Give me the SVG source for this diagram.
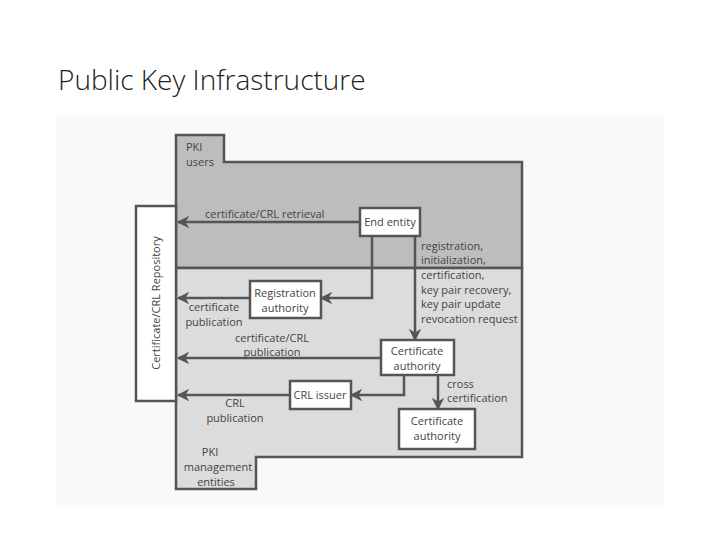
<svg xmlns="http://www.w3.org/2000/svg" width="720" height="540" viewBox="0 0 720 540">
<style>
text{font-family:"Open Sans","Liberation Sans",sans-serif;fill:#444;font-size:11px}
.box{fill:#fff;stroke:#555;stroke-width:2.5}
.reg{stroke:#555;stroke-width:2.5}
.c{fill:none;stroke:#555;stroke-width:2.5}
</style>
<defs><marker id="a" viewBox="0 0 10 10" refX="9" refY="5" markerWidth="5" markerHeight="5" orient="auto" markerUnits="strokeWidth"><path d="M0,0L10,5L0,10L3,5z" fill="#555"/></marker></defs>
<rect width="720" height="540" fill="#fff"/>
<text x="58" y="90" style="font-size:28px;fill:#222;font-family:'Open Sans','Liberation Sans',sans-serif;font-weight:300">Public Key Infrastructure</text>
<rect x="56" y="115" width="608" height="390" fill="#f9f9f9"/>
<g id="users"><path class="reg" fill="#bdbdbd" d="M176,135H224V162H522V268H176Z"/><text x="186" y="151">PKI</text><text x="186" y="166">users</text></g>
<g id="mgmt"><path class="reg" fill="#dcdcdc" d="M176,268H522V457H256V489H176Z"/><text x="210" y="456" text-anchor="middle">PKI</text><text x="218" y="471" text-anchor="middle">management</text><text x="216" y="486" text-anchor="middle">entities</text></g>
<g id="repo"><rect class="box" x="136" y="206" width="40" height="195"/><text transform="translate(160,303) rotate(-90)" text-anchor="middle">Certificate/CRL Repository</text></g>
<g id="ee"><rect class="box" x="360" y="208" width="60" height="28"/><text x="390" y="226" text-anchor="middle">End entity</text></g>
<g id="ra"><rect class="box" x="250" y="281" width="71" height="37"/><text x="285" y="297" text-anchor="middle">Registration</text><text x="285" y="312" text-anchor="middle">authority</text></g>
<g id="ca1"><rect class="box" x="381" y="340" width="73" height="35"/><text x="417" y="355" text-anchor="middle">Certificate</text><text x="417" y="370" text-anchor="middle">authority</text></g>
<g id="crl"><rect class="box" x="290" y="381" width="61" height="28"/><text x="320" y="399" text-anchor="middle">CRL issuer</text></g>
<g id="ca2"><rect class="box" x="399" y="409" width="76" height="40"/><text x="437" y="425" text-anchor="middle">Certificate</text><text x="437" y="440" text-anchor="middle">authority</text></g>
<g id="connectors">
<path class="c" d="M360,222H178" marker-end="url(#a)"/>
<path class="c" d="M372,236V298H321" marker-end="url(#a)"/>
<path class="c" d="M250,298H178" marker-end="url(#a)"/>
<path class="c" d="M415,236V340" marker-end="url(#a)"/>
<path class="c" d="M381,358H178" marker-end="url(#a)"/>
<path class="c" d="M404,375V395H351" marker-end="url(#a)"/>
<path class="c" d="M290,395H178" marker-end="url(#a)"/>
<path class="c" d="M438,375V409" marker-end="url(#a)"/>
<text x="205" y="218">certificate/CRL retrieval</text>
<text x="421" y="250">registration,</text><text x="421" y="264">initialization,</text><text x="421" y="279">certification,</text><text x="421" y="294">key pair recovery,</text><text x="421" y="308">key pair update</text><text x="421" y="323">revocation request</text>
<text x="214" y="311" text-anchor="middle">certificate</text><text x="214" y="326" text-anchor="middle">publication</text>
<text x="272" y="342" text-anchor="middle">certificate/CRL</text><text x="272" y="356" text-anchor="middle">publication</text>
<text x="235" y="407" text-anchor="middle">CRL</text><text x="235" y="422" text-anchor="middle">publication</text>
<text x="447" y="388">cross</text><text x="447" y="402">certification</text>
</g>
</svg>
